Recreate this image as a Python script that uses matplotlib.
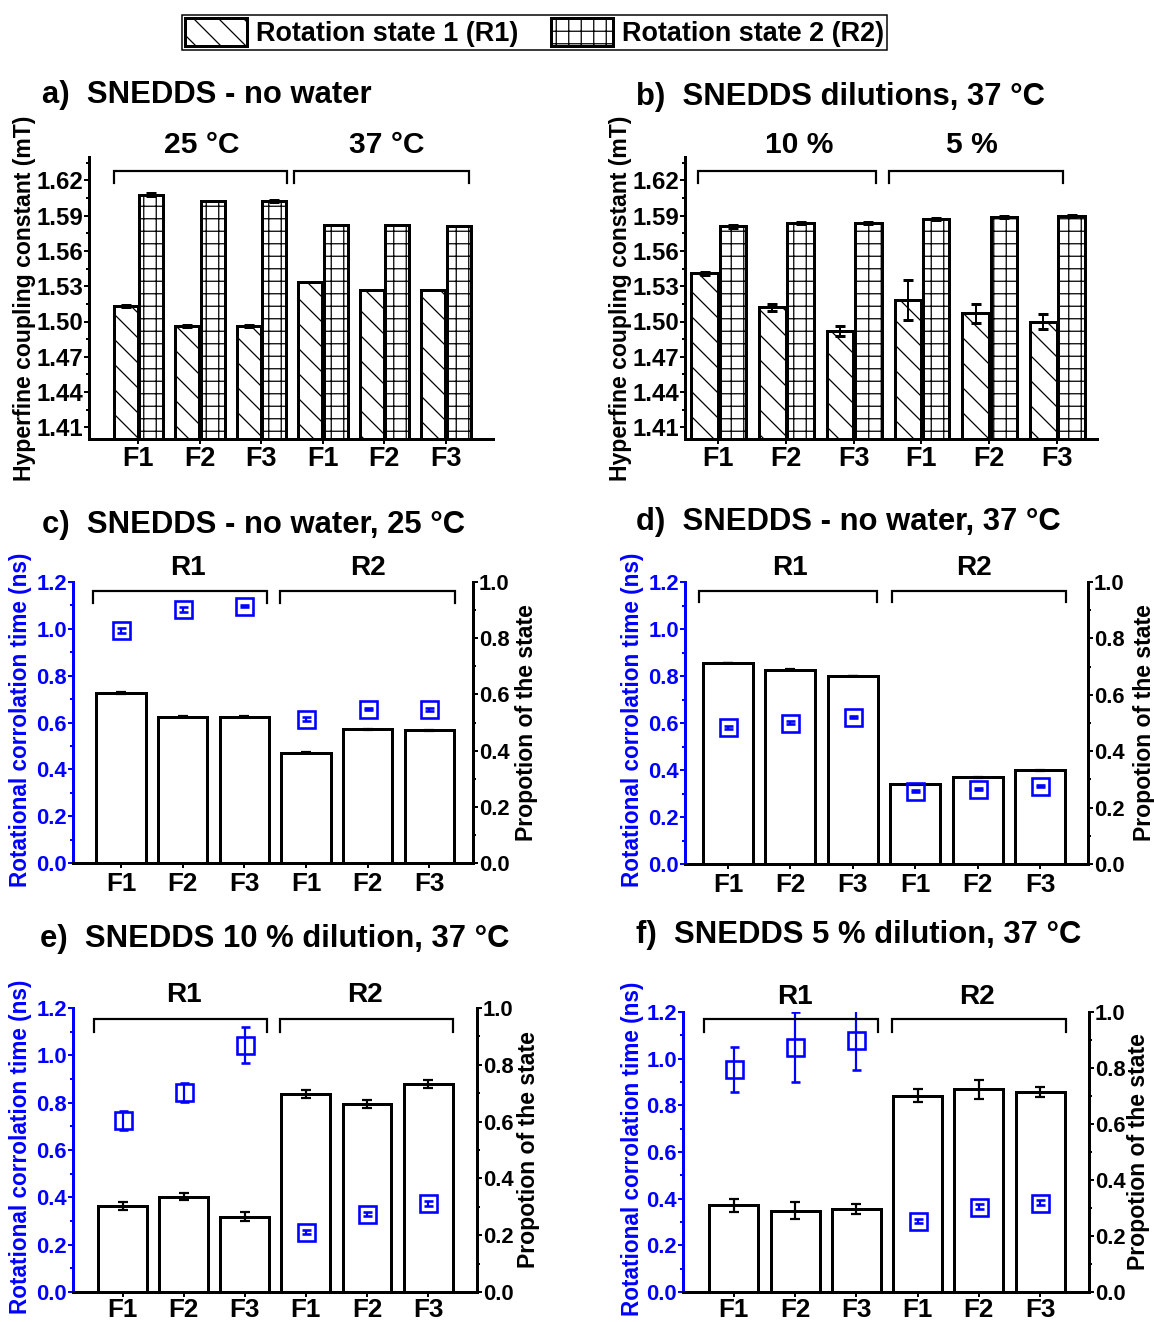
import matplotlib
matplotlib.use('Agg')
import matplotlib.pyplot as plt
import numpy as np
from matplotlib.patches import Patch
from matplotlib.ticker import FixedLocator, FormatStrFormatter

# ---------------- data ----------------
formulations = ['F1', 'F2', 'F3', 'F1', 'F2', 'F3']

# a) hyperfine coupling constant, no water (25 °C: F1-F3, 37 °C: F1-F3)
a_r1 = [1.513, 1.496, 1.496, 1.534, 1.527, 1.527]
a_r1_err = [0.001, 0.001, 0.001, 0.0, 0.0, 0.0]
a_r2 = [1.608, 1.6025, 1.6025, 1.582, 1.582, 1.581]
a_r2_err = [0.001, 0.0, 0.001, 0.0, 0.0, 0.0]

# b) hyperfine coupling constant, dilutions at 37 °C (10 %: F1-F3, 5 %: F1-F3)
b_r1 = [1.541, 1.512, 1.492, 1.518, 1.507, 1.500]
b_r1_err = [0.001, 0.003, 0.004, 0.017, 0.008, 0.006]
b_r2 = [1.581, 1.584, 1.584, 1.587, 1.589, 1.590]
b_r2_err = [0.001, 0.001, 0.001, 0.001, 0.001, 0.001]

# c) no water, 25 °C  (R1: F1-F3, R2: F1-F3)
c_prop = [0.604, 0.521, 0.521, 0.393, 0.476, 0.473]
c_prop_err = [0.003, 0.002, 0.002, 0.003, 0.002, 0.002]
c_tau = [0.994, 1.083, 1.098, 0.615, 0.658, 0.656]
c_tau_err = [0.01, 0.01, 0.005, 0.01, 0.005, 0.005]

# d) no water, 37 °C
d_prop = [0.713, 0.689, 0.667, 0.282, 0.307, 0.332]
d_prop_err = [0.001, 0.001, 0.001, 0.001, 0.001, 0.001]
d_tau = [0.581, 0.602, 0.626, 0.310, 0.320, 0.333]
d_tau_err = [0.005, 0.005, 0.005, 0.005, 0.005, 0.005]

# e) 10 % dilution, 37 °C
e_prop = [0.303, 0.336, 0.265, 0.696, 0.662, 0.732]
e_prop_err = [0.013, 0.012, 0.015, 0.014, 0.013, 0.015]
e_tau = [0.726, 0.843, 1.043, 0.253, 0.330, 0.375]
e_tau_err = [0.04, 0.04, 0.075, 0.01, 0.01, 0.01]

# f) 5 % dilution, 37 °C
f_prop = [0.310, 0.291, 0.298, 0.701, 0.724, 0.713]
f_prop_err = [0.023, 0.032, 0.018, 0.024, 0.033, 0.018]
f_tau = [0.955, 1.052, 1.080, 0.305, 0.366, 0.383]
f_tau_err = [0.096, 0.150, 0.127, 0.01, 0.01, 0.01]

legend_labels = ['Rotation state 1 (R1)', 'Rotation state 2 (R2)']
hfc_ylabel = 'Hyperfine coupling constant (mT)'
tau_ylabel = 'Rotational corrolation time (ns)'
prop_ylabel = 'Propotion of the state'

# ---------------- styling helpers ----------------
DPI = 150
FW, FH = 1154, 1322
plt.rcParams['font.family'] = ['Liberation Sans', 'DejaVu Sans']
plt.rcParams['font.weight'] = 'bold'
plt.rcParams['hatch.linewidth'] = 0.6

HATCH_R1 = '\\\\'
HATCH_R2 = '++'


def PT(px):
    return px * 72.0 / DPI


fig = plt.figure(figsize=(FW / DPI, FH / DPI), dpi=DPI)
fig.patch.set_facecolor('white')
BLUE = '#0000ff'


def add_ax(l, t, r, b):
    return fig.add_axes([l / FW, 1 - b / FH, (r - l) / FW, (b - t) / FH])


def ftext(x, y, s, size, **kw):
    return fig.text(x / FW, 1 - y / FH, s, fontsize=PT(size), fontweight='bold', **kw)


def brackets(ax, spans, y_h, y_leg, labels, label_x, label_y, size):
    tr = ax.get_xaxis_transform()
    for (x0, x1) in spans:
        ax.plot([x0, x0, x1, x1], [y_leg, y_h, y_h, y_leg], color='black', lw=PT(2.2),
                transform=tr, clip_on=False, solid_joinstyle='miter')
    for lab, lx in zip(labels, label_x):
        ax.text(lx, label_y, lab, transform=tr, ha='center', va='center',
                fontsize=PT(size), fontweight='bold')


def style_x(ax, xlim, size, pad):
    x = np.arange(1, 7)
    ax.set_xlim(*xlim)
    ax.set_xticks(x)
    ax.set_xticklabels(formulations)
    ax.tick_params(axis='x', direction='out', length=PT(5), width=PT(2),
                   labelsize=PT(size), pad=PT(pad))


def hfc_panel(box, xlim, r1, r1e, r2, r2e, spans, glabels, glx, title, title_xy, ylab_x):
    l, t, r, b = box
    ax = add_ax(l, t, r, b)
    x = np.arange(1, 7)
    ekw = dict(elinewidth=PT(2), capthick=PT(3), ecolor='black')
    ax.bar(x - 0.2, r1, 0.39, yerr=r1e, color='white', edgecolor='black', hatch=HATCH_R1,
           lw=PT(3), capsize=PT(5), error_kw=ekw)
    ax.bar(x + 0.215, r2, 0.39, yerr=r2e, color='white', edgecolor='black', hatch=HATCH_R2,
           lw=PT(3), capsize=PT(5), error_kw=ekw)
    ax.set_ylim(1.40, 1.64)
    ax.yaxis.set_major_locator(FixedLocator(np.round(np.arange(1.41, 1.6201, 0.03), 2)))
    ax.yaxis.set_minor_locator(FixedLocator(np.round(np.arange(1.425, 1.641, 0.03), 3)))
    ax.yaxis.set_major_formatter(FormatStrFormatter('%.2f'))
    ax.tick_params(axis='y', which='major', direction='out', length=PT(5), width=PT(2),
                   labelsize=PT(24), pad=PT(1))
    ax.tick_params(axis='y', which='minor', direction='out', length=PT(3), width=PT(2))
    style_x(ax, xlim, 27, 2)
    for s in ('top', 'right'):
        ax.spines[s].set_visible(False)
    for s in ('left', 'bottom'):
        ax.spines[s].set_linewidth(PT(3))
    brackets(ax, spans, 0.950, 0.908, glabels, glx, 1.043, 30)
    ftext(title_xy[0], title_xy[1], title, 31, va='baseline', ha='left')
    ftext(ylab_x, (t + b) / 2, hfc_ylabel, 23, rotation=90, ha='center', va='center')
    return ax


def tau_panel(box, xlim, prop, prope, tau, taue, spans, yb, glx, title, title_xy,
              ylab_l, ylab_r, xpad):
    l, t, r, b = box
    ax = add_ax(l, t, r, b)
    ax2 = ax.twinx()
    ax.set_zorder(ax2.get_zorder() + 1)
    ax.patch.set_visible(False)
    x = np.arange(1, 7)
    ax2.bar(x, prop, 0.8, yerr=prope, color='white', edgecolor='black', lw=PT(3),
            capsize=PT(5), error_kw=dict(elinewidth=PT(2.2), capthick=PT(2.2), ecolor='black'))
    ax.errorbar(x, tau, yerr=taue, fmt='s', ms=PT(17), mfc='none', mec=BLUE, mew=PT(2.6),
                ecolor=BLUE, elinewidth=PT(2.2), capsize=PT(4.5), capthick=PT(2.6))
    ax.set_ylim(0, 1.2)
    ax2.set_ylim(0, 1.0)
    ax.yaxis.set_major_locator(FixedLocator(np.round(np.arange(0, 1.201, 0.2), 1)))
    ax.yaxis.set_minor_locator(FixedLocator(np.round(np.arange(0.1, 1.201, 0.2), 1)))
    ax.yaxis.set_major_formatter(FormatStrFormatter('%.1f'))
    ax2.yaxis.set_major_locator(FixedLocator(np.round(np.arange(0, 1.001, 0.2), 1)))
    ax2.yaxis.set_minor_locator(FixedLocator(np.round(np.arange(0.1, 1.001, 0.2), 1)))
    ax2.yaxis.set_major_formatter(FormatStrFormatter('%.1f'))
    ax.tick_params(axis='y', which='major', direction='out', length=PT(5), width=PT(2),
                   labelsize=PT(22), pad=PT(1), colors=BLUE)
    ax.tick_params(axis='y', which='minor', direction='out', length=PT(3), width=PT(2),
                   colors=BLUE)
    ax2.tick_params(axis='y', which='major', direction='out', length=PT(5), width=PT(2),
                    labelsize=PT(22), pad=PT(1), colors='black')
    ax2.tick_params(axis='y', which='minor', direction='out', length=PT(3), width=PT(2))
    style_x(ax, xlim, 26, xpad)
    for s in ('top', 'right'):
        ax.spines[s].set_visible(False)
    ax.spines['left'].set_color(BLUE)
    ax.spines['left'].set_linewidth(PT(3))
    ax.spines['bottom'].set_linewidth(PT(3))
    for s in ('top', 'left', 'bottom'):
        ax2.spines[s].set_visible(False)
    ax2.spines['right'].set_linewidth(PT(3))
    yh, yl, ylab = yb
    brackets(ax, spans, yh, yl, ['R1', 'R2'], glx, ylab, 28)
    ftext(title_xy[0], title_xy[1], title, 31, va='baseline', ha='left')
    ftext(ylab_l, (t + b) / 2 - 3, tau_ylabel, 22.5, rotation=90, ha='center', va='center',
          color=BLUE)
    ftext(ylab_r, (t + b) / 2 + 0, prop_ylabel, 23, rotation=90, ha='center', va='center')
    return ax


# ---------------- panels ----------------
hfc_panel((89, 157, 493, 439), (0.2, 6.77), a_r1, a_r1_err, a_r2, a_r2_err,
          [(0.61, 3.42), (3.54, 6.38)], ['25 °C', '37 °C'], [2.04, 5.05],
          'a)  SNEDDS - no water', (42, 103), 25)

hfc_panel((685, 157, 1097, 439), (0.51, 6.59), b_r1, b_r1_err, b_r2, b_r2_err,
          [(0.70, 3.33), (3.52, 6.09)], ['10 %', '5 %'], [2.19, 4.75],
          'b)  SNEDDS dilutions, 37 °C', (636, 105), 621)

tau_panel((73, 582, 473, 863), (0.22, 6.71), c_prop, c_prop_err, c_tau, c_tau_err,
          [(0.545, 3.37), (3.58, 6.42)], (0.968, 0.925, 1.05), [2.09, 5.01],
          'c)  SNEDDS - no water, 25 °C', (42, 533), 21, 527, 4)

tau_panel((685, 582, 1088, 864), (0.31, 6.77), d_prop, d_prop_err, d_tau, d_tau_err,
          [(0.53, 3.38), (3.63, 6.42)], (0.968, 0.929, 1.05), [2.0, 4.95],
          'd)  SNEDDS - no water, 37 °C', (636, 530), 633, 1144, 4)

tau_panel((73, 1008, 477, 1292), (0.19, 6.8), e_prop, e_prop_err, e_tau, e_tau_err,
          [(0.53, 3.36), (3.58, 6.41)], (0.961, 0.917, 1.046), [2.0, 4.97],
          'e)  SNEDDS 10 % dilution, 37 °C', (40, 947), 21, 528, 1)

tau_panel((683, 1012, 1089, 1292), (0.17, 6.8), f_prop, f_prop_err, f_tau, f_tau_err,
          [(0.51, 3.36), (3.59, 6.43)], (0.975, 0.929, 1.054), [2.0, 4.97],
          'f)  SNEDDS 5 % dilution, 37 °C', (636, 943), 633, 1139, 1)

# ---------------- legend ----------------
handles = [Patch(facecolor='white', edgecolor='black', hatch=HATCH_R1, lw=PT(3)),
           Patch(facecolor='white', edgecolor='black', hatch=HATCH_R2, lw=PT(3))]
leg = fig.legend(handles, legend_labels, loc='upper left', bbox_to_anchor=(182 / FW, 1 - 15 / FH),
                 ncol=2, frameon=True, fancybox=False, edgecolor='black', framealpha=1,
                 prop=dict(size=PT(27), weight='bold'), handlelength=62 / 27, handleheight=32 / 27,
                 handletextpad=0.33, columnspacing=1.2, borderpad=0.12, borderaxespad=0)
leg.get_frame().set_linewidth(PT(1.5))

fig.savefig('out.png', dpi=DPI, facecolor='white')
